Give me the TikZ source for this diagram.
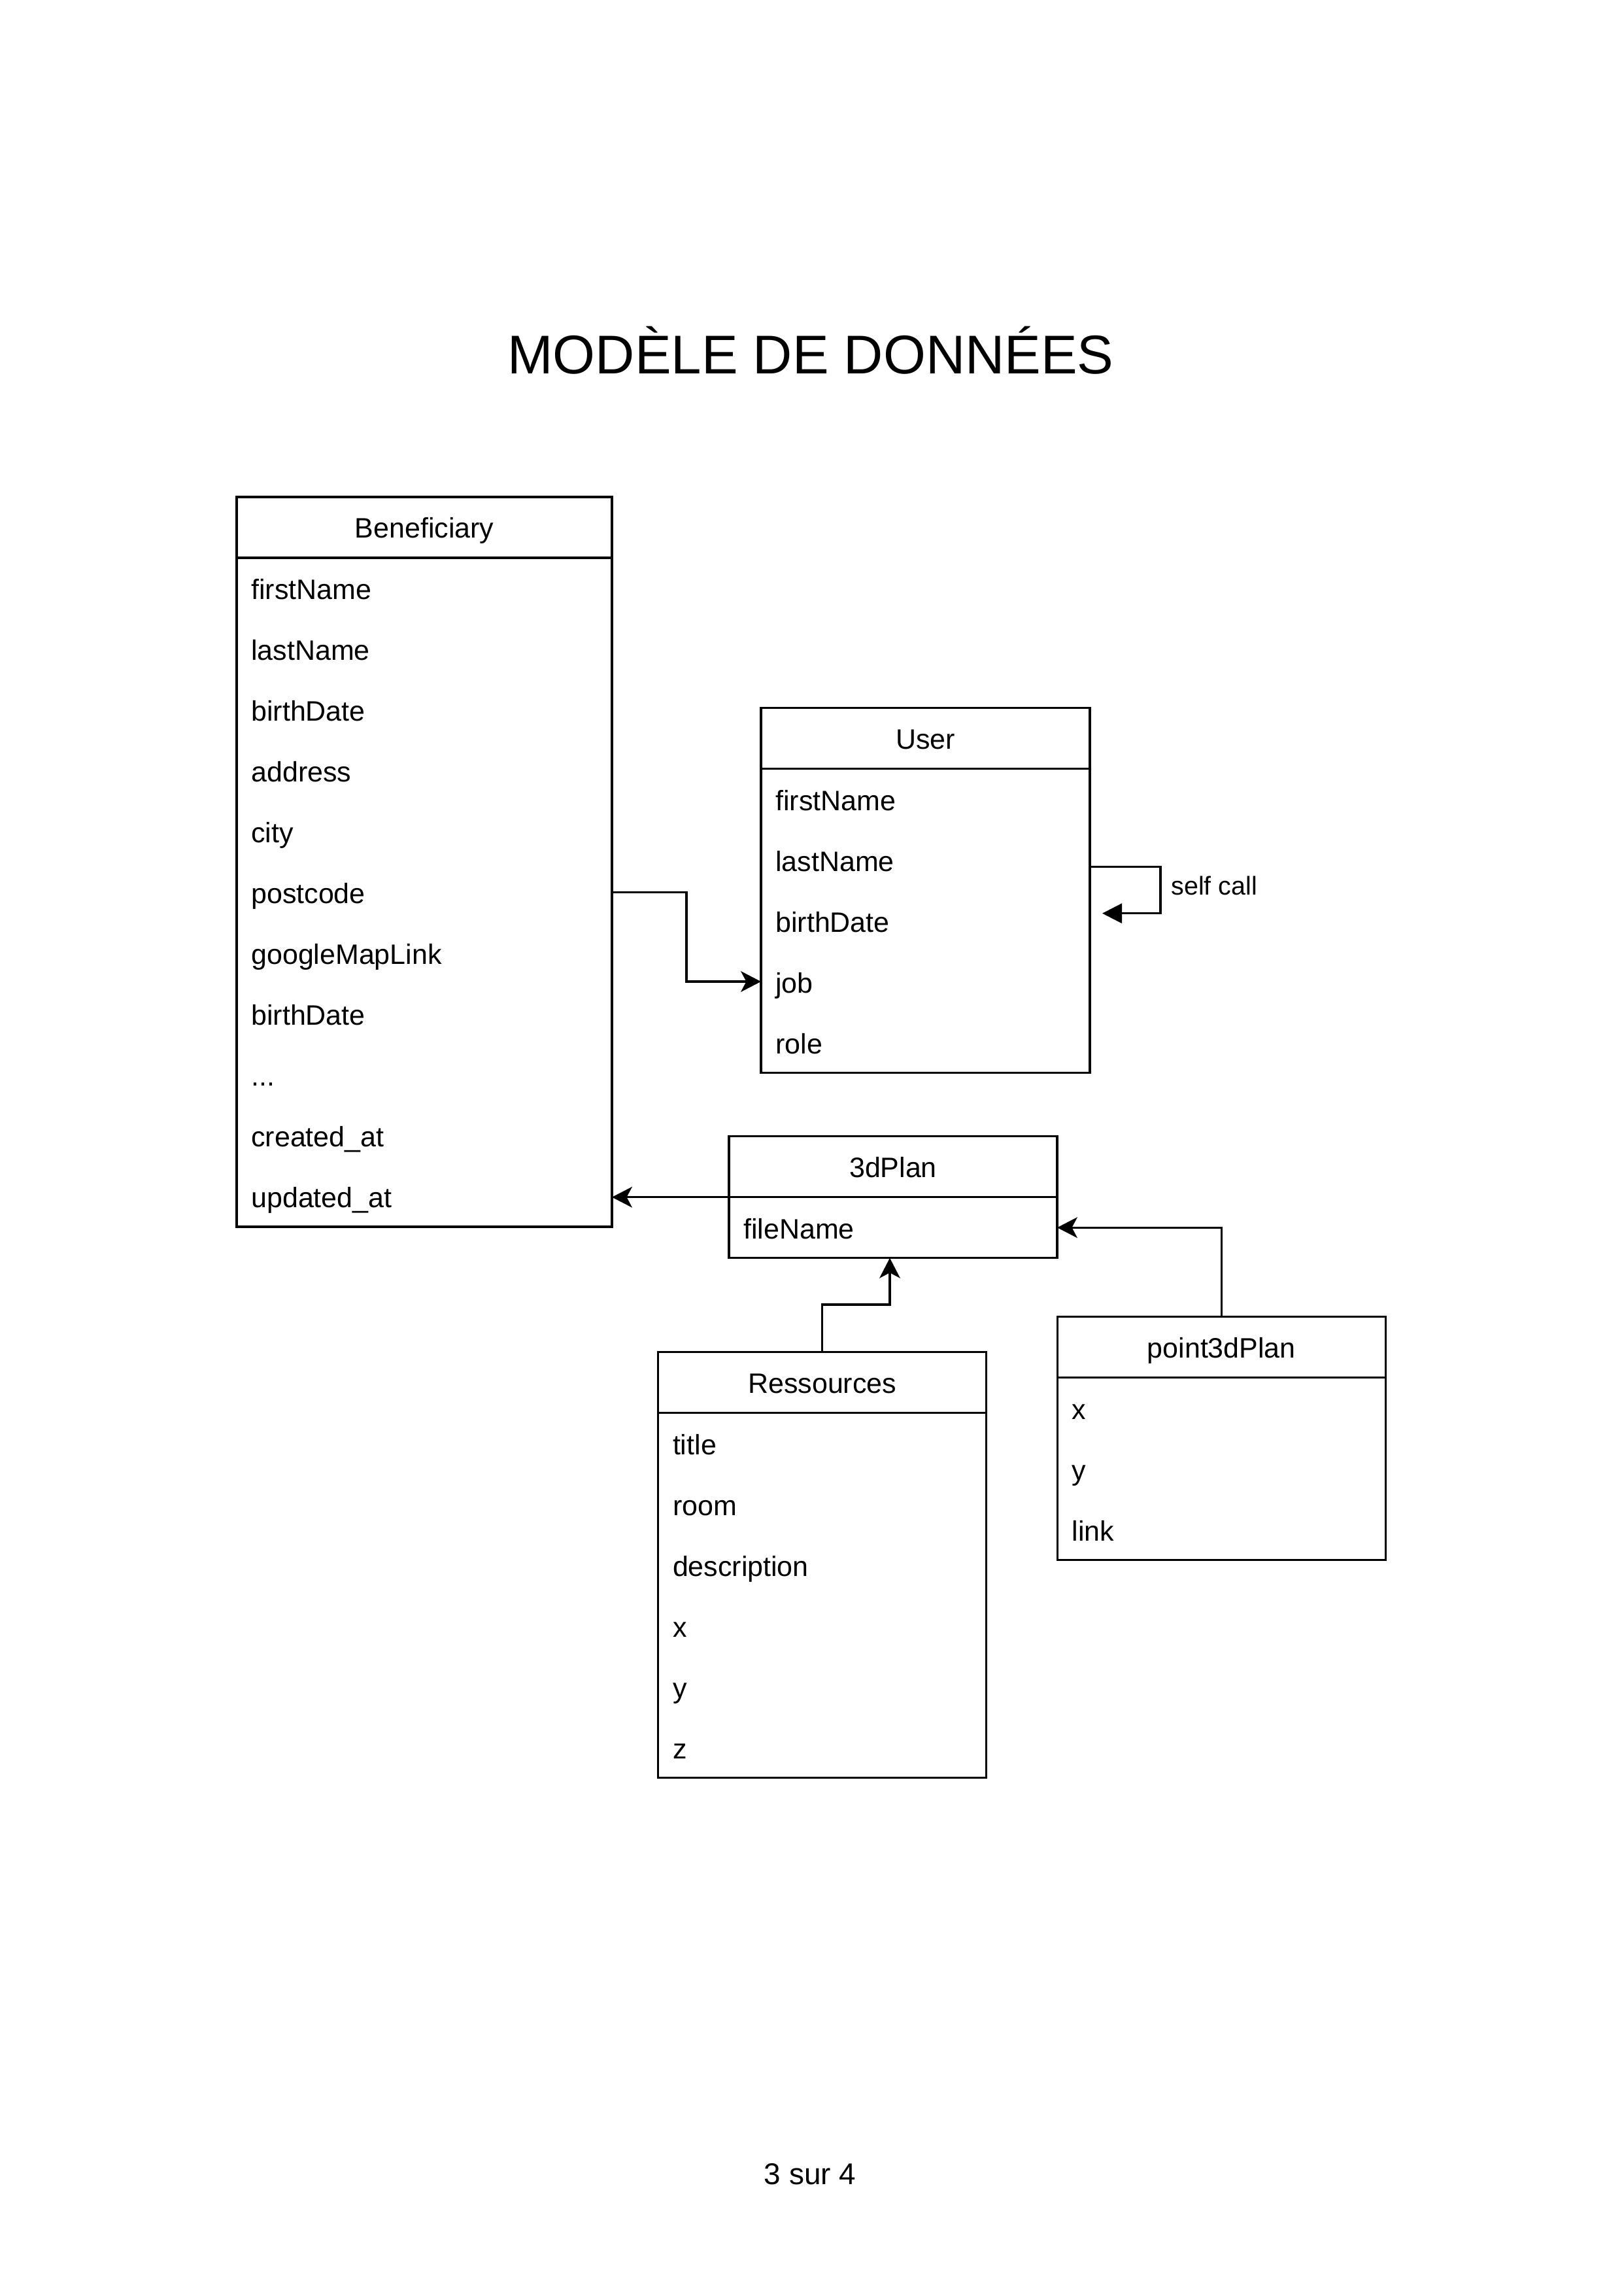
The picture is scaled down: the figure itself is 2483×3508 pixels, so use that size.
\documentclass[tikz,border=0pt]{standalone}
\usepackage{fontspec}
\setmainfont{Liberation Sans}
\usetikzlibrary{arrows.meta}
\def\pxu{0.23974pt}
\newcommand{\mydots}{...}
\newcommand{\entbox}[7]{%
  \node[entity, minimum width=#4*\pxu, minimum height=#5*93*\pxu, anchor=north west] (#1) at (#2,#3) {};
  \draw[boxline] (#2,#3+93) -- (#2+#4,#3+93);
  \coordinate (#1-0-w) at (#2,#3+93);
  \coordinate (#1-0-e) at (#2+#4,#3+93);
  \node[hdrtext] (#1-t) at (#2+#4/2,#3+62.7) {#6};
  \foreach \f [count=\i] in {#7} {
    \node[fieldtext] (#1-\i) at (#2+21.5,#3+93*\i+63.7) {\f};
    \coordinate (#1-\i-w) at (#2,#3+93*\i+46.5);
    \coordinate (#1-\i-e) at (#2+#4,#3+93*\i+46.5);
  }
}
\tikzset{
  entity/.style={draw, line width=0.75pt, inner sep=0pt, outer sep=0pt, fill=white},
  boxline/.style={line width=0.75pt},
  hdrtext/.style={anchor=base, inner sep=0pt, font=\fontsize{10.3pt}{12pt}\selectfont},
  fieldtext/.style={anchor=base west, inner sep=0pt, font=\fontsize{10.3pt}{12pt}\selectfont},
  conn/.style={line width=0.75pt},
  arr/.style={conn, -{Stealth[length=7.4pt, width=7.6pt, inset=2pt]}},
  blockarr/.style={conn, -{Triangle[length=7.2pt, width=7.2pt]}},
  lbl/.style={anchor=base west, inner sep=0pt, font=\fontsize{9.45pt}{11pt}\selectfont},
}
\begin{document}
\begin{tikzpicture}[x=0.23974pt, y=-0.23974pt]
\fill[white] (0,0) rectangle (2483,3508);
\useasboundingbox (0,0) rectangle (2483,3508);

\node[anchor=base, inner sep=0pt, font=\fontsize{20pt}{24pt}\selectfont] (title) at (1240,571.7) {MODÈLE DE DONNÉES};

\entbox{ben}{362}{760}{574}{12}{Beneficiary}{firstName, lastName, birthDate, address, city, postcode, googleMapLink, birthDate, \mydots, created\_at, updated\_at}
\entbox{user}{1164}{1082.5}{503}{6}{User}{firstName, lastName, birthDate, job, role}
\entbox{plan}{1115}{1737.7}{502}{2}{3dPlan}{fileName}
\entbox{res}{1006.7}{2067.3}{502}{7}{Ressources}{title, room, description, x, y, z}
\entbox{pt}{1617.3}{2013.3}{502}{4}{point3dPlan}{x, y, link}

% Beneficiary -> User
\draw[arr] (ben-6-e) -- ++(114,0) |- (user-4-w);

% self call
\coordinate (uselfout) at (1667.3,1325.7);
\coordinate (uselfin) at (1686,1396.7);
\draw[blockarr] (uselfout) -- (1775,1325.7) |- (uselfin);
\node[lbl] (selfcall) at (1790.7,1368.3) {self call};

% 3dPlan -> Beneficiary
\draw[arr] (plan-0-w) -- (ben-11-e |- plan-0-w);

% Ressources -> 3dPlan
\coordinate (planin) at (1361,1923.7);
\draw[arr] (res.north) -- ++(0,-72.3) -| (planin);

% point3dPlan -> 3dPlan
\draw[arr] (pt.north) |- (plan-1-e);

\node[anchor=base, inner sep=0pt, font=\fontsize{11pt}{13pt}\selectfont] (footer) at (1239,3340.7) {3 sur 4};
\end{tikzpicture}
\end{document}
